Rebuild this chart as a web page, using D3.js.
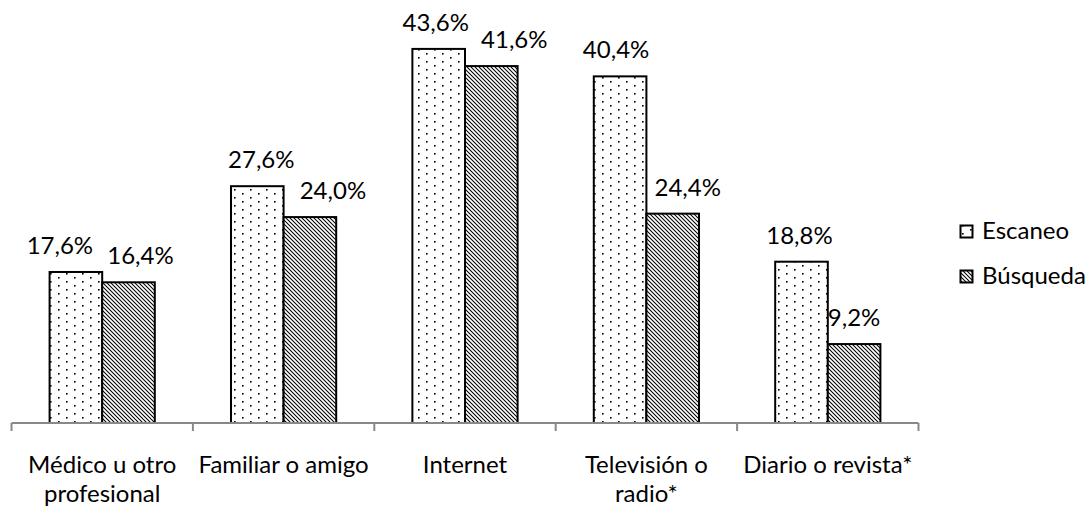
<!DOCTYPE html>
<html><head><meta charset="utf-8">
<script src="https://cdn.jsdelivr.net/npm/d3@7"></script>
<style>body{margin:0;background:#fff}svg{display:block}text{font-family:Lato,"Open Sans",sans-serif;fill:#000}</style>
</head><body>
<svg id="c" width="1089" height="508"></svg>
<script>
const categories = ["Médico u otro profesional","Familiar o amigo","Internet","Televisión o radio*","Diario o revista*"];
const categoryLines = [["Médico u otro","profesional"],["Familiar o amigo"],["Internet"],["Televisión o","radio*"],["Diario o revista*"]];
const seriesNames = ["Escaneo","Búsqueda"];
const escaneo = [17.6, 27.6, 43.6, 40.4, 18.8];
const busqueda = [16.4, 24.0, 41.6, 24.4, 9.2];
const seriesValues = [escaneo, busqueda];

// label nudges (style: horizontal offsets of value labels, as placed in the original)
const labelNudge = [[-16, 4, -3, -4, -2], [12, 23, 23, 15, 0]];

const FS = 24;
const svg = d3.select("#c");
const defs = svg.append("defs");
const pd = defs.append("pattern").attr("id","dots").attr("patternUnits","userSpaceOnUse").attr("width",16).attr("height",8);
pd.append("rect").attr("width",16).attr("height",8).attr("fill","#fff");
pd.append("rect").attr("x",2).attr("y",1).attr("width",1.6).attr("height",1.6).attr("fill","#000");
pd.append("rect").attr("x",10).attr("y",5).attr("width",1.6).attr("height",1.6).attr("fill","#000");
const ph = defs.append("pattern").attr("id","diag").attr("patternUnits","userSpaceOnUse").attr("width",4).attr("height",4);
ph.append("rect").attr("width",4).attr("height",4).attr("fill","#fff");
ph.append("path").attr("d","M-1,-1L5,5M-1,3L1,5M3,-1L5,1").attr("stroke","#000").attr("stroke-width",1.05);
const fills = ["url(#dots)","url(#diag)"];

const x0 = d3.scaleBand().domain(categories).range([11.5, 918.5]).paddingInner(0.42).paddingOuter(0.21);
const x1 = d3.scaleBand().domain(seriesNames).range([0, x0.bandwidth()]);
const y = d3.scaleLinear().domain([0, 50]).range([423, -6]);

const g = svg.append("g");
categories.forEach((c, i) => {
  seriesNames.forEach((s, j) => {
    const v = seriesValues[j][i];
    const bx = x0(c) + x1(s);
    g.append("rect").attr("x", bx).attr("y", y(v)).attr("width", x1.bandwidth()).attr("height", y(0) - y(v))
      .attr("fill", fills[j]).attr("stroke", "#000").attr("stroke-width", 2);
    g.append("text").attr("x", bx + x1.bandwidth()/2 + labelNudge[j][i]).attr("y", y(v) - 18).attr("text-anchor","middle")
      .attr("font-size", FS).text(d3.format(".1f")(v).replace(".", ",") + "%");
  });
});

const ax = svg.append("g");
const edges = categories.map(c => x0(c) - x0.step()*x0.paddingInner()/2);
edges.push(918.5);
ax.append("line").attr("x1", 11.5).attr("x2", 918.5).attr("y1", 423).attr("y2", 423).attr("stroke","#888").attr("stroke-width",2);
edges.forEach(e => ax.append("line").attr("x1", e).attr("x2", e).attr("y1", 423).attr("y2", 431).attr("stroke","#888").attr("stroke-width",2));
categories.forEach((c, i) => {
  const cx = x0(c) + x0.bandwidth()/2;
  categoryLines[i].forEach((ln, k) => {
    ax.append("text").attr("x", cx).attr("y", 473 + k*29).attr("text-anchor","middle").attr("font-size",FS).text(ln);
  });
});

const lg = svg.append("g");
seriesNames.forEach((s, j) => {
  const base = 239 + j*45;
  lg.append("rect").attr("x", 960.5).attr("y", base - 13.5).attr("width", 12).attr("height", 12)
    .attr("fill", fills[j]).attr("stroke","#000").attr("stroke-width",2);
  lg.append("text").attr("x", 982).attr("y", base).attr("font-size", FS).text(s);
});
</script>
</body></html>
